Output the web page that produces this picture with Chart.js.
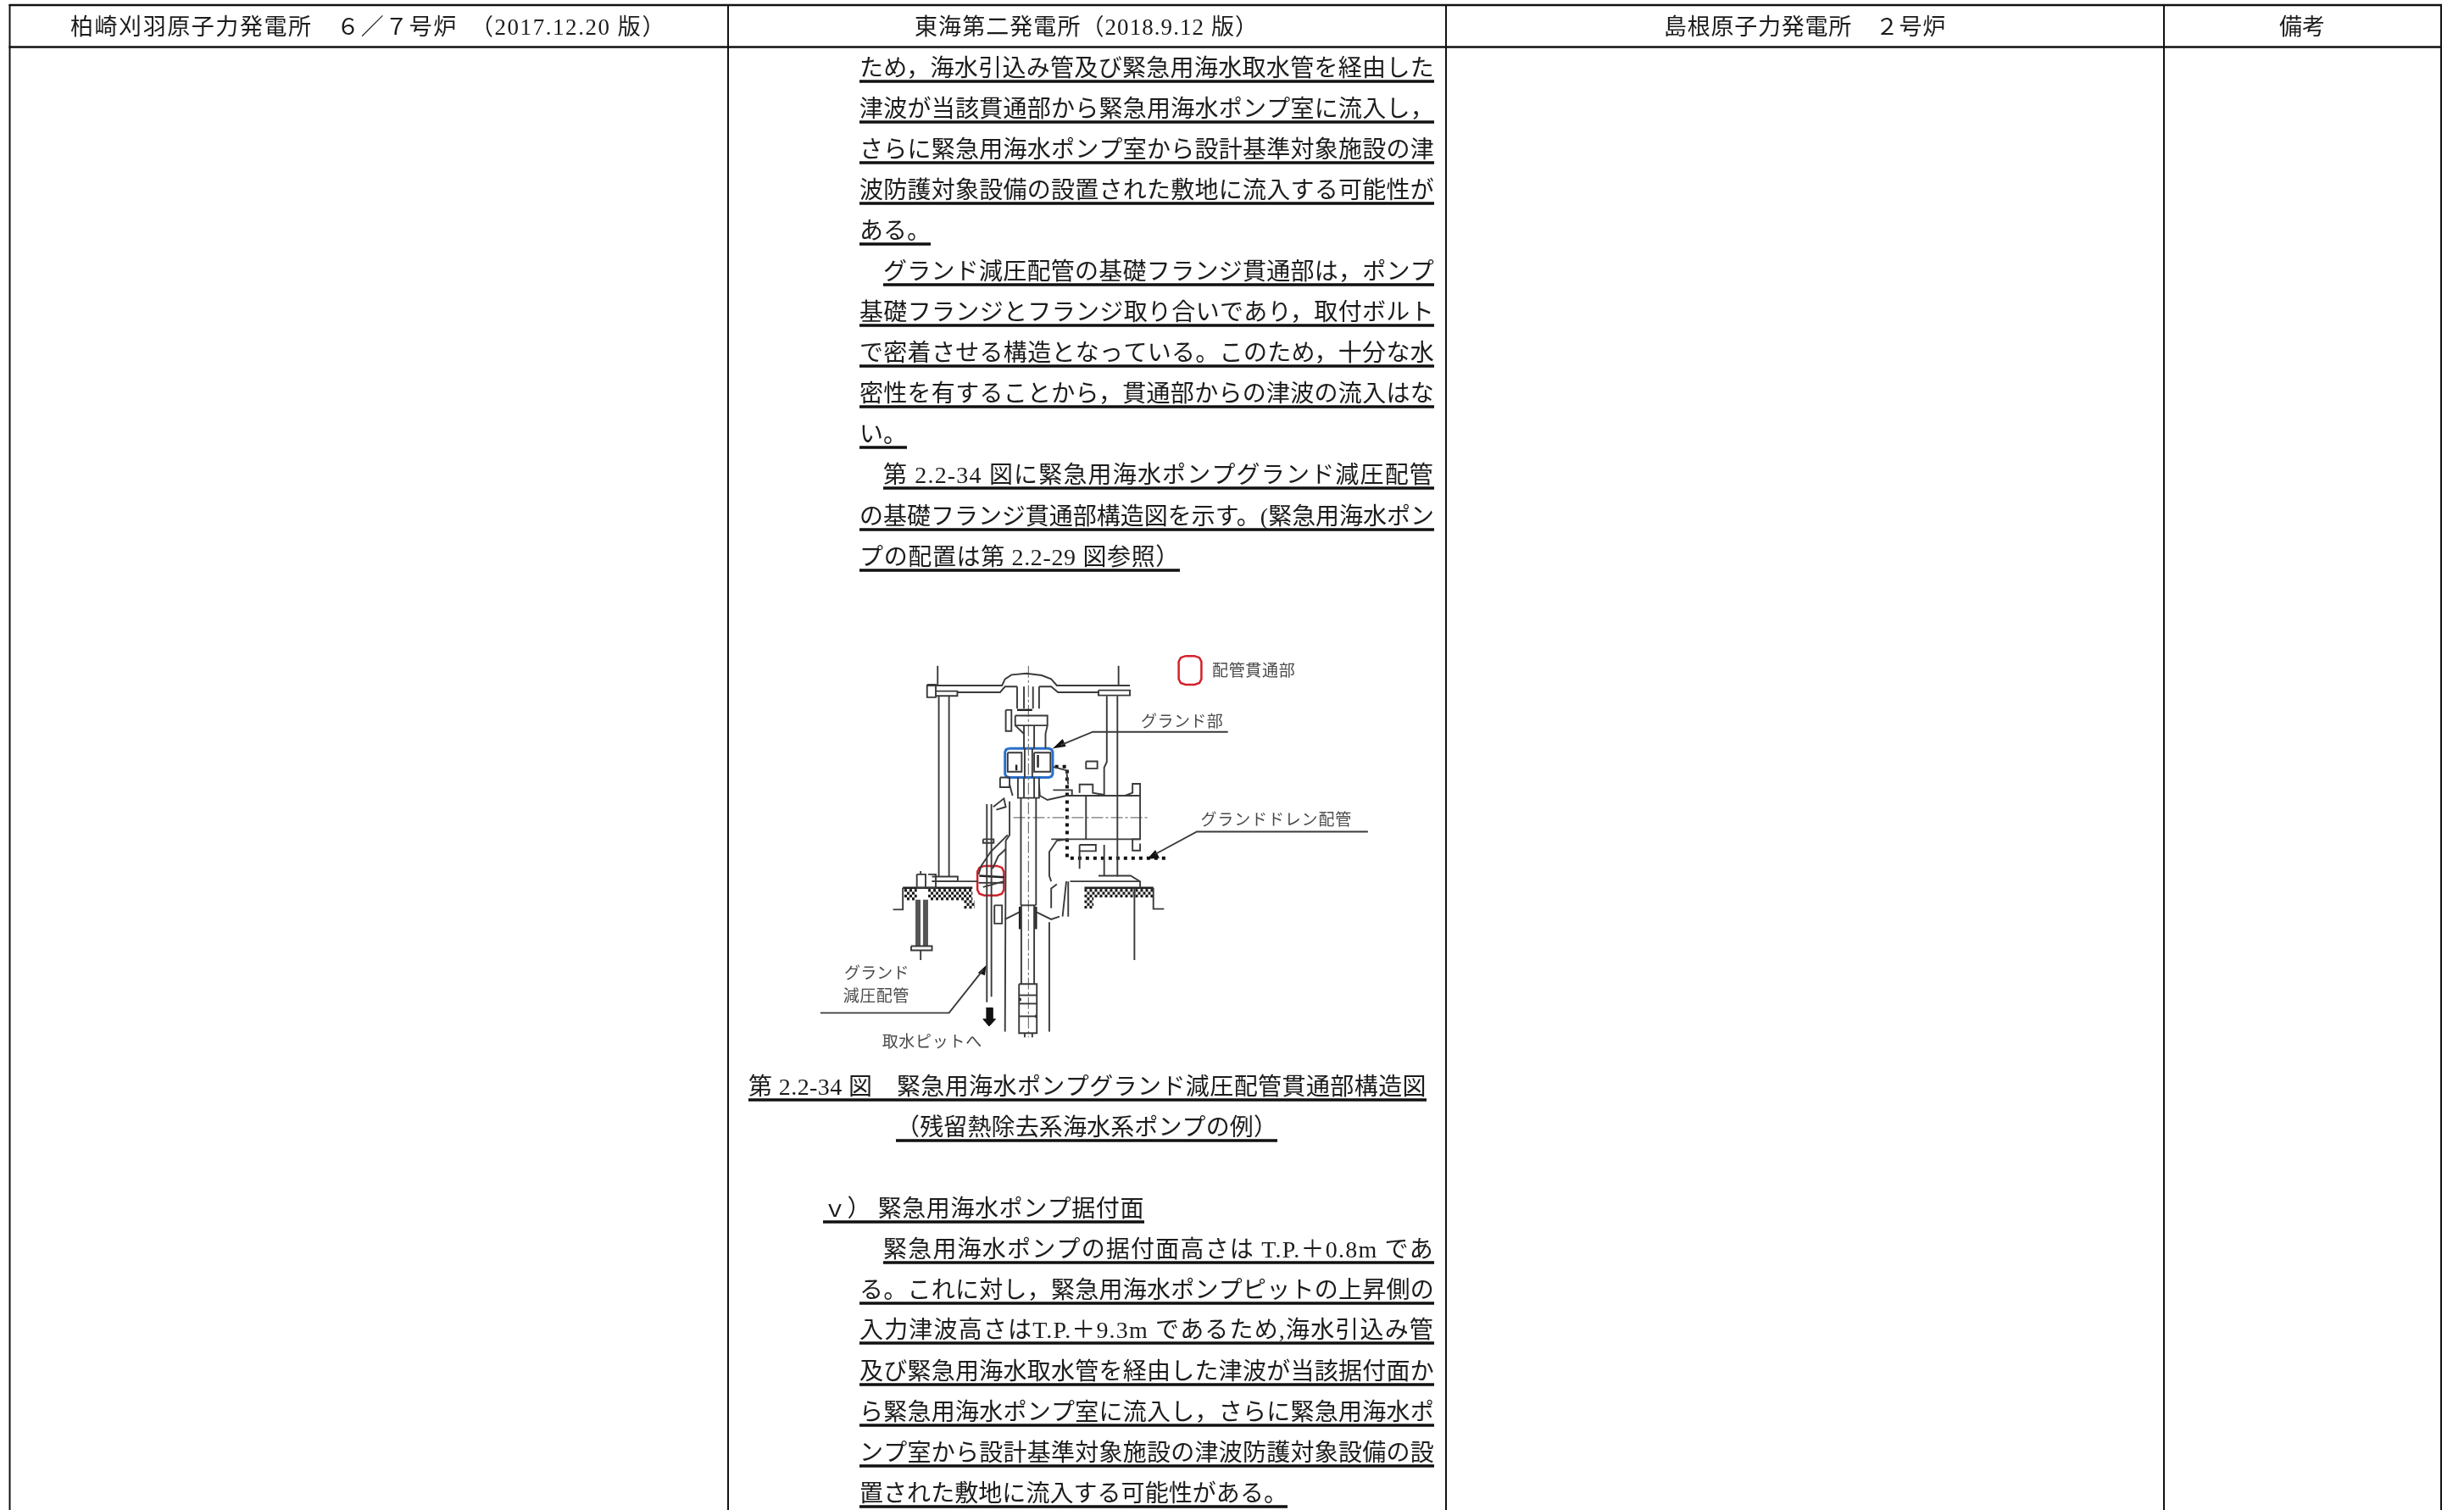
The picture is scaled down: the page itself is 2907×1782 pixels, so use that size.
<!DOCTYPE html>
<html lang="ja">
<head>
<meta charset="utf-8">
<title>第2.2-34図 比較表</title>
<script src="https://cdn.jsdelivr.net/npm/chart.js@4"></script>
<style>
  html, body { margin: 0; padding: 0; background: #fff; }
  canvas { display: block; }
</style>
</head>
<body>
<canvas id="grafico" width="2907" height="1782"></canvas>
<script>
// table rules, page units
const columnEdges = [11.5, 859, 1706, 2553, 2880];
const headerRules = [6, 55.5];

// column headings (full-width forms written as escapes)
const headerTexts = [
  "柏崎刈羽原子力発電所\u3000\uFF16\uFF0F\uFF17号炉\u3000\uFF082017.12.20 版\uFF09",
  "東海第二発電所\uFF082018.9.12 版\uFF09",
  "島根原子力発電所\u3000\uFF12号炉",
  "備考"
];
const headerSpans = [[83, 786], [1079, 1485], [1963, 2296], [2689, 2743]];

// running text of the second column
const bodyTexts = [
  "ため\uFF0C海水引込み管及び緊急用海水取水管を経由した",
  "津波が当該貫通部から緊急用海水ポンプ室に流入し\uFF0C",
  "さらに緊急用海水ポンプ室から設計基準対象施設の津",
  "波防護対象設備の設置された敷地に流入する可能性が",
  "ある。",
  "グランド減圧配管の基礎フランジ貫通部は\uFF0Cポンプ",
  "基礎フランジとフランジ取り合いであり\uFF0C取付ボルト",
  "で密着させる構造となっている。このため\uFF0C十分な水",
  "密性を有することから\uFF0C貫通部からの津波の流入はな",
  "い。",
  "第 2.2-34 図に緊急用海水ポンプグランド減圧配管",
  "の基礎フランジ貫通部構造図を示す。(緊急用海水ポン",
  "プの配置は第 2.2-29 図参照\uFF09",
  "第 2.2-34 図\u3000緊急用海水ポンプグランド減圧配管貫通部構造図",
  "\uFF08残留熱除去系海水系ポンプの例\uFF09",
  "\uFF56\uFF09 緊急用海水ポンプ据付面",
  "緊急用海水ポンプの据付面高さは T.P.\uFF0B0.8m であ",
  "る。これに対し\uFF0C緊急用海水ポンプピットの上昇側の",
  "入力津波高さはT.P.\uFF0B9.3m であるため,海水引込み管",
  "及び緊急用海水取水管を経由した津波が当該据付面か",
  "ら緊急用海水ポンプ室に流入し\uFF0Cさらに緊急用海水ポ",
  "ンプ室から設計基準対象施設の津波防護対象設備の設",
  "置された敷地に流入する可能性がある。"
];
// underline of each line: left, right, y
const bodyUnderlines = [
  [1014, 1692, 96], [1014, 1692, 144], [1014, 1692, 192], [1014, 1692, 240],
  [1014, 1098, 288], [1042, 1692, 336], [1014, 1692, 384], [1014, 1692, 432],
  [1014, 1692, 480], [1014, 1070, 528], [1042, 1692, 576], [1014, 1692, 625],
  [1014, 1392, 673], [883, 1683, 1298], [1057, 1507, 1346], [971, 1350, 1442],
  [1042, 1692, 1490], [1014, 1692, 1538], [1014, 1692, 1585], [1014, 1692, 1634],
  [1014, 1692, 1682], [1014, 1692, 1730], [1014, 1519, 1778]
];

// figure, drawing units (see dx / dy scales)
const figureLabels = ["配管貫通部", "グランド部", "グランドドレン配管", "グランド", "減圧配管", "取水ピットへ"];
const figureLabelSpans = [[1075, 1296, 176], [887, 1105, 356], [1045, 1445, 705], [103, 275, 1250], [100, 275, 1332], [203, 468, 1494]];

const thinLines = [
  [[350, 138], [350, 205]], [[828, 138], [828, 205]],
  [[322, 208], [520, 208], [528, 185], [545, 170], [585, 165], [625, 172], [650, 185], [665, 208], [858, 208]],
  [[402, 232], [515, 232], [528, 212], [560, 212]], [[618, 212], [650, 212], [668, 232], [775, 232]],
  [[322, 205], [345, 205], [345, 250], [322, 250], [322, 205]],
  [[345, 228], [402, 228], [402, 245], [345, 245]],
  [[775, 225], [858, 225], [858, 243], [775, 243], [775, 225]],
  [[353, 245], [353, 888]], [[380, 245], [380, 888]],
  [[797, 245], [797, 480], [790, 500], [790, 597]], [[825, 245], [825, 888]],
  [[335, 888], [403, 888], [403, 905], [335, 905]], [[335, 905], [455, 905]],
  [[775, 885], [860, 885], [885, 905], [885, 925]], [[700, 905], [885, 905]], [[790, 775], [790, 885]],
  [[560, 212], [560, 290]], [[618, 212], [618, 290]], [[578, 212], [578, 290]], [[602, 212], [602, 290]],
  [[555, 315], [640, 315], [640, 350], [555, 350], [555, 315]],
  [[578, 350], [578, 432]], [[605, 350], [605, 432]], [[555, 350], [578, 380]], [[640, 350], [635, 380], [635, 432]],
  [[535, 447], [572, 447], [572, 515], [535, 515], [535, 447]],
  [[605, 447], [648, 447], [648, 515], [605, 515], [605, 447]],
  [[580, 432], [580, 535]], [[600, 432], [600, 535]],
  [[578, 535], [578, 608]], [[605, 535], [605, 608]], [[562, 535], [562, 608], [618, 608], [618, 535]],
  [[515, 535], [540, 535], [540, 570], [515, 570], [515, 535]], [[540, 560], [548, 600]],
  [[618, 560], [620, 600], [640, 615], [690, 600]], [[655, 580], [705, 580], [705, 600]],
  [[690, 600], [885, 600]], [[725, 590], [725, 560], [760, 560], [760, 590], [790, 597]],
  [[845, 600], [865, 590], [865, 558], [885, 558], [885, 755], [865, 755], [865, 795], [885, 795], [885, 770]],
  [[650, 755], [885, 755]], [[695, 755], [665, 760], [645, 800], [645, 885], [650, 905]],
  [[742, 600], [742, 755]], [[725, 775], [768, 775], [768, 797], [725, 797], [725, 775]], [[725, 860], [725, 797]],
  [[570, 608], [570, 990]], [[610, 608], [610, 990]], [[571, 990], [571, 1270]], [[605, 990], [605, 1270]],
  [[540, 620], [540, 740], [530, 760], [528, 1440]], [[535, 740], [490, 800], [465, 850], [458, 880]],
  [[530, 790], [510, 815], [495, 860]], [[645, 1050], [645, 1440]],
  [[528, 1040], [565, 1015]], [[612, 1015], [650, 1040], [672, 1030]], [[570, 990], [610, 990]],
  [[500, 990], [520, 990], [520, 1055], [500, 1055], [500, 990]],
  [[480, 630], [480, 1335]], [[492, 630], [492, 1315]],
  [[470, 755], [498, 755], [498, 768], [470, 768], [470, 755]],
  [[497, 640], [525, 610], [530, 640], [505, 650]],
  [[458, 910], [525, 910]], [[470, 925], [525, 905]],
  [[690, 905], [680, 1030]], [[665, 915], [650, 930], [650, 1000]], [[695, 905], [695, 1030]],
  [[232, 1005], [258, 1005], [258, 928]], [[920, 928], [920, 1003], [948, 1003]], [[870, 930], [870, 1185]],
  [[295, 880], [318, 880], [318, 928], [295, 928], [295, 880]], [[325, 880], [345, 880], [345, 928], [325, 928]],
  [[280, 1135], [335, 1135], [335, 1150], [280, 1150], [280, 1135]], [[305, 1150], [305, 1185]], [[305, 868], [305, 880]],
  [[565, 1270], [612, 1270], [612, 1445], [565, 1445], [565, 1270]],
  [[565, 1310], [612, 1310]], [[565, 1340], [612, 1340]], [[565, 1385], [612, 1385]],
  [[580, 1445], [580, 1460]], [[600, 1445], [600, 1460]],
  [[742, 478], [772, 478], [772, 503], [742, 503], [742, 478]],
  [[655, 497], [690, 510], [695, 560]],
  [[530, 295], [545, 295], [545, 370], [530, 370], [530, 295]],
  [[1117, 373], [760, 373], [675, 420]], [[1487, 728], [1035, 728], [925, 808]], [[40, 1373], [380, 1373], [470, 1220]]
];
const heavyLines = [
  [[258, 928], [442, 928]], [[738, 928], [920, 928]],
  [[615, 455], [615, 500]], [[558, 490], [558, 510]], [[560, 295], [600, 295]],
  [[567, 995], [567, 1075]], [[610, 995], [610, 1075]],
  [[460, 885], [525, 890]], [[568, 1320], [568, 1330]], [[610, 1380], [610, 1390]]
];
const centreLines = [[[590, 138], [590, 1460]], [[550, 678], [905, 678]]];
const drainPipe = [[660, 497], [692, 497], [692, 822], [955, 822]];
const hatchRows = [
  [262, 295, 937], [325, 442, 937], [262, 295, 947], [325, 442, 947], [262, 295, 957], [325, 442, 957], [262, 295, 967], [325, 442, 967],
  [420, 448, 977], [420, 448, 987], [420, 448, 997],
  [738, 920, 937], [738, 920, 947], [738, 920, 957],
  [738, 762, 967], [738, 762, 977], [738, 762, 987], [738, 762, 997]
];
const anchorRods = [[[298, 970], [298, 1135]], [[318, 970], [318, 1135]]];
const arrowHeads = [
  [[655, 432], [680, 400], [688, 425]],
  [[905, 825], [925, 795], [935, 822]],
  [[478, 1205], [458, 1230], [475, 1238]],
  [[478, 1355], [495, 1355], [495, 1395], [503, 1395], [486, 1420], [470, 1395], [478, 1395]]
];
const redBoxes = [[987, 103, 1047, 205], [455, 850, 525, 955]];
const blueBoxes = [[528, 432, 654, 535]];

const BLACK = "#111111";
const GREY = "#3a3a3a";
const PAGE_FONT = '"Liberation Serif", "Noto Sans CJK JP", serif';

function toPoints(pts) {
  return pts.map(p => ({ x: p[0], y: p[1] }));
}

function segment(pts, color, width, extra) {
  return Object.assign({
    data: toPoints(pts),
    showLine: true,
    pointRadius: 0,
    borderColor: color,
    borderWidth: width,
    tension: 0,
    fill: false,
    xAxisID: "dx",
    yAxisID: "dy"
  }, extra || {});
}

function pageSegment(pts, color, width) {
  return segment(pts, color, width, { xAxisID: "x", yAxisID: "y", borderCapStyle: "butt" });
}

function roundBox(b, rx, ry) {
  const [x0, y0, x1, y1] = b;
  return [
    [x0 + rx, y0], [x1 - rx, y0], [x1 - rx * 0.3, y0 + ry * 0.3], [x1, y0 + ry],
    [x1, y1 - ry], [x1 - rx * 0.3, y1 - ry * 0.3], [x1 - rx, y1],
    [x0 + rx, y1], [x0 + rx * 0.3, y1 - ry * 0.3], [x0, y1 - ry],
    [x0, y0 + ry], [x0 + rx * 0.3, y0 + ry * 0.3], [x0 + rx, y0]
  ];
}

const datasets = [];
columnEdges.forEach(x => datasets.push(pageSegment([[x, headerRules[0] - 1], [x, 1782]], BLACK, 2)));
headerRules.forEach(y => datasets.push(pageSegment([[columnEdges[0] - 1, y], [columnEdges[4] + 1, y]], BLACK, 2.5)));
bodyUnderlines.forEach(u => datasets.push(pageSegment([[u[0], u[2]], [u[1], u[2]]], BLACK, 3.5)));
thinLines.forEach(l => datasets.push(segment(l, GREY, 1.9)));
heavyLines.forEach(l => datasets.push(segment(l, "#222222", 2.4)));
centreLines.forEach(l => datasets.push(segment(l, "#777777", 1.2, { borderDash: [14, 3, 3, 3] })));
hatchRows.forEach(r => datasets.push(segment([[r[0], r[2]], [r[1], r[2]]], "#1a1a1a", 3.3, {
  borderDash: [3, 3],
  borderDashOffset: (r[2] - 937) % 20 === 0 ? 0 : 3
})));
anchorRods.forEach(l => datasets.push(segment(l, "#555555", 6)));
datasets.push(segment(drainPipe, BLACK, 4, { borderDash: [4, 5] }));
arrowHeads.forEach(a => datasets.push(segment(a, BLACK, 1, { fill: "shape", backgroundColor: BLACK })));
redBoxes.forEach(b => datasets.push(segment(roundBox(b, 18, 20), "#d3212c", 2.5)));
blueBoxes.forEach(b => datasets.push(segment(roundBox(b, 10, 12), "#2a6fc9", 3)));

function fitText(ctx, text, left, right, baseline) {
  ctx.letterSpacing = "0px";
  const natural = ctx.measureText(text).width;
  const gap = (right - left - natural) / text.length;
  ctx.letterSpacing = gap.toFixed(3) + "px";
  ctx.fillText(text, left, baseline);
  ctx.letterSpacing = "0px";
}

const pageText = {
  id: "pageText",
  afterDatasetsDraw(chart) {
    const { ctx, scales } = chart;
    ctx.save();
    ctx.textBaseline = "alphabetic";
    ctx.textAlign = "left";

    ctx.fillStyle = "#1c1c1c";
    ctx.font = "27px " + PAGE_FONT;
    headerTexts.forEach((t, i) => {
      const span = headerSpans[i];
      fitText(ctx, t, scales.x.getPixelForValue(span[0]), scales.x.getPixelForValue(span[1]), scales.y.getPixelForValue(41));
    });

    ctx.font = "28px " + PAGE_FONT;
    bodyTexts.forEach((t, i) => {
      const u = bodyUnderlines[i];
      fitText(ctx, t, scales.x.getPixelForValue(u[0]), scales.x.getPixelForValue(u[1]), scales.y.getPixelForValue(u[2] - 6));
    });

    ctx.fillStyle = "#4a4a4a";
    ctx.font = "19px " + PAGE_FONT;
    figureLabels.forEach((t, i) => {
      const s = figureLabelSpans[i];
      fitText(ctx, t, scales.dx.getPixelForValue(s[0]), scales.dx.getPixelForValue(s[1]), scales.dy.getPixelForValue(s[2]));
    });
    ctx.restore();
  }
};

const X_PER_PX = 2.24, Y_PER_PX = 3.015, FIG_LEFT = 950, FIG_TOP = 740;

new Chart(document.getElementById("grafico"), {
  type: "scatter",
  data: { datasets: datasets },
  options: {
    responsive: false,
    animation: false,
    layout: { padding: 0 },
    plugins: { legend: { display: false }, tooltip: { enabled: false }, title: { display: false } },
    scales: {
      x: { type: "linear", min: 0, max: 2907, display: false },
      y: { type: "linear", min: 0, max: 1782, reverse: true, display: false },
      dx: { type: "linear", axis: "x", min: -FIG_LEFT * X_PER_PX, max: (2907 - FIG_LEFT) * X_PER_PX, display: false },
      dy: { type: "linear", axis: "y", min: -FIG_TOP * Y_PER_PX, max: (1782 - FIG_TOP) * Y_PER_PX, reverse: true, display: false }
    }
  },
  plugins: [pageText]
});
</script>
</body>
</html>
